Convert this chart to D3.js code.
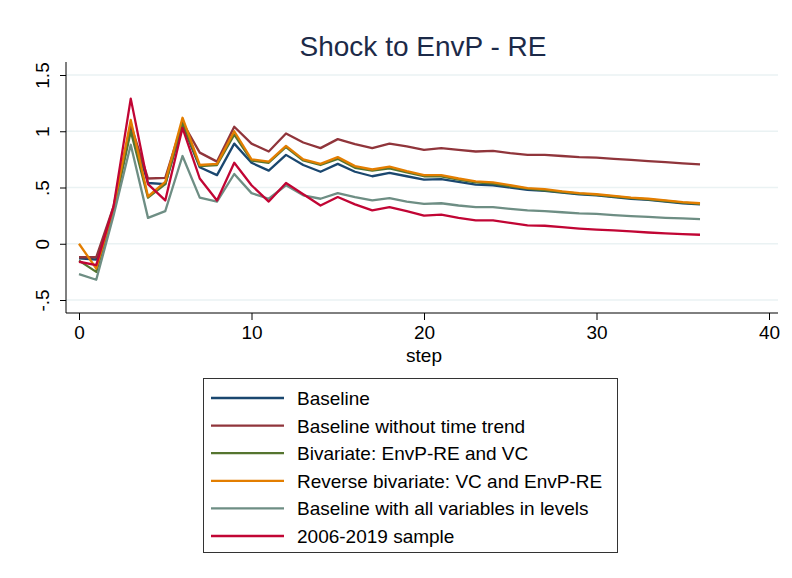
<!DOCTYPE html>
<html>
<head>
<meta charset="utf-8">
<script src="https://cdn.jsdelivr.net/npm/d3@7"></script>
<style>
    body { margin: 0; background: #fff; }
    svg { display: block; font-family: "Liberation Sans", Arial, Helvetica, sans-serif; }
</style>
</head>
<body>
<svg id="chart" width="792" height="578"></svg>
<script>
// Data
const steps = [0,1,2,3,4,5,6,7,8,9,10,11,12,13,14,15,16,17,18,19,20,21,22,23,24,25,26,27,28,29,30,31,32,33,34,35,36];

const baseline = [-0.13,-0.14,0.30,1.03,0.54,0.53,1.06,0.68,0.61,0.89,0.72,0.65,0.79,0.70,0.64,0.71,0.64,0.60,0.63,0.60,0.57,0.575,0.55,0.525,0.52,0.50,0.48,0.47,0.455,0.44,0.43,0.415,0.40,0.39,0.375,0.36,0.35];
const noTrend = [-0.12,-0.12,0.33,1.06,0.58,0.585,1.08,0.81,0.73,1.04,0.89,0.82,0.98,0.90,0.85,0.93,0.885,0.85,0.89,0.865,0.835,0.85,0.835,0.82,0.825,0.805,0.79,0.79,0.78,0.77,0.765,0.755,0.745,0.735,0.725,0.715,0.705];
const bivariate = [-0.15,-0.25,0.29,1.00,0.41,0.53,1.07,0.69,0.70,0.97,0.74,0.72,0.86,0.74,0.70,0.755,0.675,0.65,0.67,0.635,0.60,0.60,0.57,0.545,0.535,0.51,0.49,0.475,0.46,0.445,0.435,0.42,0.405,0.395,0.38,0.365,0.355];
const reverse = [0.00,-0.22,0.31,1.10,0.42,0.55,1.12,0.70,0.71,1.00,0.75,0.73,0.87,0.75,0.71,0.77,0.69,0.66,0.685,0.645,0.61,0.61,0.58,0.555,0.545,0.52,0.495,0.485,0.465,0.45,0.44,0.425,0.41,0.40,0.385,0.37,0.36];
const levels = [-0.27,-0.32,0.25,0.88,0.23,0.29,0.78,0.41,0.375,0.62,0.45,0.40,0.52,0.43,0.40,0.45,0.415,0.385,0.405,0.375,0.355,0.36,0.34,0.325,0.325,0.31,0.296,0.29,0.28,0.27,0.265,0.255,0.245,0.238,0.23,0.225,0.218];
const sample0619 = [-0.16,-0.19,0.33,1.29,0.53,0.385,1.03,0.58,0.385,0.72,0.52,0.375,0.54,0.44,0.34,0.415,0.35,0.296,0.326,0.29,0.25,0.258,0.23,0.207,0.207,0.185,0.163,0.16,0.148,0.135,0.125,0.118,0.11,0.10,0.092,0.085,0.08];

const seriesNames = [
    'Baseline',
    'Baseline without time trend',
    'Bivariate: EnvP-RE and VC',
    'Reverse bivariate: VC and EnvP-RE',
    'Baseline with all variables in levels',
    '2006-2019 sample'
];
const seriesValues = [baseline, noTrend, bivariate, reverse, levels, sample0619];
const seriesColors = ['#1a476f', '#90353b', '#55752f', '#e37e00', '#6e8e84', '#c10534'];

const xTicks = [0, 10, 20, 30, 40];
const yTicks = [-0.5, 0, 0.5, 1, 1.5];
const yTickLabels = ['-.5', '0', '.5', '1', '1.5'];

const svg = d3.select('#chart');
const plot = { left: 66, right: 778, top: 62, bottom: 313 };

const x = d3.scaleLinear().domain([0, 40]).range([79, 769]);
const y = d3.scaleLinear().domain([-0.5, 1.5]).range([300, 75]);

// Title
svg.append('text')
    .attr('x', 423)
    .attr('y', 56)
    .attr('text-anchor', 'middle')
    .attr('font-size', 28)
    .attr('fill', '#1c2a48')
    .text('Shock to EnvP - RE');

// Gridlines
svg.append('g')
    .selectAll('line')
    .data(yTicks)
    .enter()
    .append('line')
    .attr('x1', plot.left)
    .attr('x2', plot.right)
    .attr('y1', d => y(d))
    .attr('y2', d => y(d))
    .attr('stroke', '#eaf2f3')
    .attr('stroke-width', 1.5);

// Axes
const xAxis = svg.append('g')
    .attr('transform', `translate(0,${plot.bottom})`)
    .call(d3.axisBottom(x).tickValues(xTicks).tickSize(7).tickPadding(6).tickFormat(d3.format('d')));

const yAxis = svg.append('g')
    .attr('transform', `translate(${plot.left},0)`)
    .call(d3.axisLeft(y).tickValues(yTicks).tickSize(6)
        .tickFormat((d, i) => yTickLabels[i]));

[xAxis, yAxis].forEach(ax => {
    ax.select('.domain').remove();
    ax.selectAll('line').attr('stroke', '#000');
    ax.selectAll('text')
        .attr('font-size', 19)
        .attr('font-family', '"Liberation Sans", Arial, Helvetica, sans-serif')
        .attr('fill', '#000');
});

yAxis.selectAll('text')
    .attr('x', null)
    .attr('dy', null)
    .attr('text-anchor', 'middle')
    .attr('transform', 'translate(-17,0) rotate(-90)');

// Axis lines spanning the plot region
svg.append('line')
    .attr('x1', plot.left).attr('x2', plot.right)
    .attr('y1', plot.bottom).attr('y2', plot.bottom)
    .attr('stroke', '#000').attr('stroke-width', 1);
svg.append('line')
    .attr('x1', plot.left).attr('x2', plot.left)
    .attr('y1', plot.top).attr('y2', plot.bottom)
    .attr('stroke', '#000').attr('stroke-width', 1);

// x axis title
svg.append('text')
    .attr('x', 424)
    .attr('y', 362)
    .attr('text-anchor', 'middle')
    .attr('font-size', 19)
    .text('step');

// Lines
const line = d3.line()
    .x((d, i) => x(steps[i]))
    .y(d => y(d));

svg.append('g')
    .selectAll('path')
    .data(seriesValues)
    .enter()
    .append('path')
    .attr('d', line)
    .attr('fill', 'none')
    .attr('stroke', (d, i) => seriesColors[i])
    .attr('stroke-width', 2.3)
    .attr('stroke-linejoin', 'round');

// Legend
const legend = svg.append('g');
legend.append('rect')
    .attr('x', 203.5)
    .attr('y', 378.5)
    .attr('width', 414)
    .attr('height', 174)
    .attr('fill', '#fff')
    .attr('stroke', '#333')
    .attr('stroke-width', 1);

const rows = legend.selectAll('g')
    .data(seriesNames)
    .enter()
    .append('g')
    .attr('transform', (d, i) => `translate(0,${398 + i * 27.6})`);

rows.append('line')
    .attr('x1', 211)
    .attr('x2', 284)
    .attr('stroke', (d, i) => seriesColors[i])
    .attr('stroke-width', 2.3);

rows.append('text')
    .attr('x', 297)
    .attr('y', 7)
    .attr('font-size', 19)
    .text(d => d);
</script>
</body>
</html>
